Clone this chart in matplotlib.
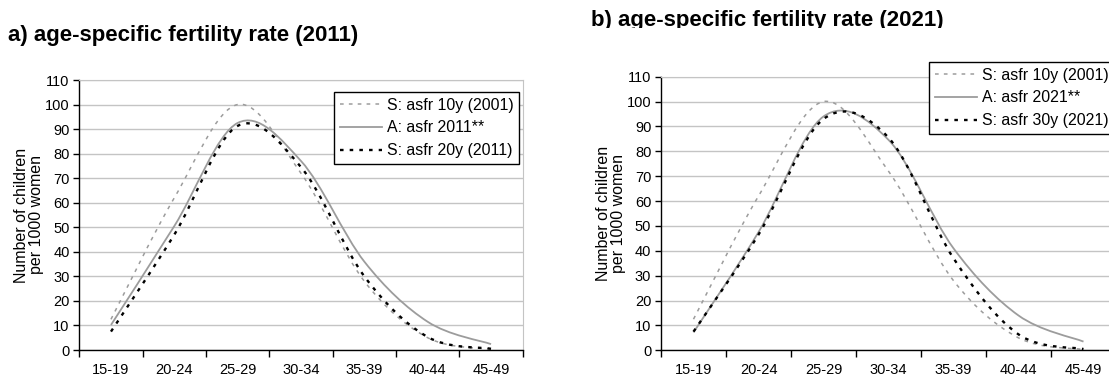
import numpy as np
import matplotlib
matplotlib.use("Agg")
import matplotlib.pyplot as plt
from matplotlib.path import Path
from matplotlib.patches import PathPatch, Rectangle
from matplotlib.lines import Line2D

plt.rcParams['font.family'] = ['Liberation Sans', 'DejaVu Sans']

age_groups = ["15-19", "20-24", "25-29", "30-34", "35-39", "40-44", "45-49"]

# simulated asfr, 10 years from 2001 (shown in both panels)
asfr_10y_2001 = [12.5, 62, 100, 72, 28, 5, 0.3]

# panel a: 2011
asfr_2011 = [10.2, 50.5, 92.5, 77, 36, 11.5, 2.4]
asfr_20y_2011 = [7.5, 47, 91.3, 74.5, 30, 5.3, 0.5]

# panel b: 2021
asfr_2021 = [7.2, 47.5, 94, 84.6, 41, 14, 3.5]
asfr_30y_2021 = [7.5, 46.5, 93, 85.5, 37, 6.4, 0.5]

W, H = 1109, 376
GRAY = '#9c9c9c'
GRID = '#c4c4c4'

styles = {
    'sim10': dict(color=GRAY, lw=1.1, ls=(0, (2.4, 3.4))),
    'actual': dict(color=GRAY, lw=1.3, ls='-'),
    'simlate': dict(color='black', lw=1.7, ls=(0, (1.5, 2.6))),
}


def smooth_path(values):
    # excel style smoothed line (catmull-rom as cubic bezier)
    pts = np.column_stack([np.arange(len(values)), values]).astype(float)
    n = len(pts)
    verts = [pts[0]]
    codes = [Path.MOVETO]
    for i in range(n - 1):
        p0 = pts[max(i - 1, 0)]
        p1 = pts[i]
        p2 = pts[i + 1]
        p3 = pts[min(i + 2, n - 1)]
        verts += [p1 + (p2 - p0) / 6, p2 - (p3 - p1) / 6, p2]
        codes += [Path.CURVE4] * 3
    return Path(verts, codes)


def draw_panel(rect, series, labels, legend_xy):
    l, t, r, b = rect
    ax = fig.add_axes([l / W, 1 - b / H, (r - l) / W, (b - t) / H])
    for vals, key in series:
        st = styles[key]
        ax.add_patch(PathPatch(smooth_path(vals), fill=False, edgecolor=st['color'],
                               lw=st['lw'], linestyle=st['ls'], capstyle='butt'))
    ax.set_xlim(-0.5, 6.5)
    ax.set_ylim(0, 110)
    ax.set_xticks(np.arange(-0.5, 7, 1))
    ax.set_xticklabels([])
    ax.set_xticks(range(7), minor=True)
    ax.set_xticklabels(age_groups, minor=True, fontsize=10.5)
    ax.tick_params(axis='x', which='major', direction='out', length=5, width=1)
    ax.tick_params(axis='x', which='minor', length=0, pad=9)
    ax.set_yticks(range(0, 111, 10))
    ax.tick_params(axis='y', direction='out', length=4, width=1, labelsize=10.5, pad=3)
    ax.yaxis.grid(True, color=GRID, lw=1)
    ax.set_axisbelow(True)
    for s in ('top', 'right'):
        ax.spines[s].set_color(GRID)
    for s in ('left', 'bottom'):
        ax.spines[s].set_linewidth(1)
    ax.set_ylabel("Number of children\nper 1000 women", fontsize=11.5, linespacing=1.0)
    ax.yaxis.set_label_coords(-35 / (r - l), 0.5)

    handles = [Line2D([], [], color=styles[k]['color'], lw=styles[k]['lw'],
                      ls=styles[k]['ls']) for _, k in series]
    leg = fig.legend(handles, labels, loc='upper left',
                     bbox_to_anchor=(legend_xy[0] / W, 1 - legend_xy[1] / H),
                     fontsize=11.4, frameon=True, fancybox=False, edgecolor='black',
                     framealpha=1, handlelength=2.7, handletextpad=0.3,
                     labelspacing=0.5, borderpad=0.35, borderaxespad=0)
    leg.get_frame().set_linewidth(1)
    return ax


fig = plt.figure(figsize=(W / 100, H / 100), dpi=100)

draw_panel((79.3, 80, 522.7, 350),
           [(asfr_10y_2001, 'sim10'), (asfr_2011, 'actual'), (asfr_20y_2011, 'simlate')],
           ["S: asfr 10y (2001)", "A: asfr 2011**", "S: asfr 20y (2011)"],
           (334, 92))

draw_panel((661, 76.7, 1116, 350.3),
           [(asfr_10y_2001, 'sim10'), (asfr_2021, 'actual'), (asfr_30y_2021, 'simlate')],
           ["S: asfr 10y (2001)", "A: asfr 2021**", "S: asfr 30y (2021)"],
           (929, 62))

fig.text(8 / W, 1 - 41 / H, "a) age-specific fertility rate (2011)",
         fontsize=16, fontweight='bold', va='baseline', ha='left')
fig.text(591 / W, 1 - 26 / H, "b) age-specific fertility rate (2021)",
         fontsize=16, fontweight='bold', va='baseline', ha='left', zorder=1)
# the panel b heading is cut just under its baseline in the original
fig.patches.append(Rectangle((585 / W, 1 - 42 / H), 370 / W, 14 / H,
                             transform=fig.transFigure, facecolor='white',
                             edgecolor='none', zorder=2))

fig.savefig('out.png', dpi=100)
